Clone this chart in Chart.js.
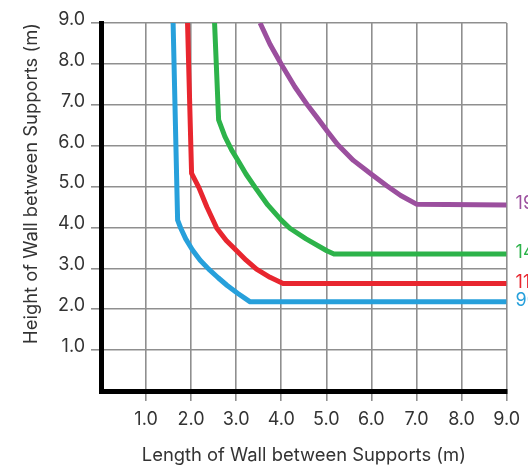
<!DOCTYPE html>
<html>
<head>
<meta charset="utf-8">
<script src="https://cdn.jsdelivr.net/npm/chart.js@4"></script>
<style>
html,body{margin:0;padding:0;background:#fff;}
#wrap{width:528px;height:471px;}
</style>
</head>
<body>
<div id="wrap"><canvas id="c" width="528" height="471"></canvas></div>
<script>
// Data
const seriesLabels = ["190mm", "140mm", "110mm", "90mm"];
const seriesColors = ["#9b4f9e", "#2db34a", "#e8262f", "#27a0db"];

const purpleX = [3.53, 3.75, 4.00, 4.30, 4.59, 4.80, 5.03, 5.25, 5.60, 6.00, 6.34, 6.65, 7.00, 9.0];
const purpleY = [9.00, 8.48, 7.99, 7.44, 6.98, 6.68, 6.34, 6.03, 5.64, 5.30, 5.02, 4.78, 4.57, 4.55];

const greenX = [2.52, 2.61, 2.75, 2.90, 3.05, 3.22, 3.42, 3.70, 4.00, 4.19, 4.55, 5.01, 5.17, 9.0];
const greenY = [9.00, 6.63, 6.22, 5.89, 5.62, 5.30, 4.98, 4.55, 4.18, 3.98, 3.72, 3.43, 3.35, 3.35];

const redX = [1.92, 2.01, 2.17, 2.35, 2.57, 2.78, 3.01, 3.22, 3.45, 3.75, 4.04, 9.0];
const redY = [9.00, 5.32, 4.98, 4.50, 3.98, 3.68, 3.43, 3.20, 2.98, 2.78, 2.63, 2.63];

const blueX = [1.60, 1.70, 1.77, 1.88, 2.03, 2.20, 2.39, 2.60, 2.80, 3.03, 3.31, 9.0];
const blueY = [9.00, 4.18, 3.98, 3.72, 3.45, 3.20, 2.98, 2.77, 2.58, 2.39, 2.18, 2.18];

const xTicks = [1, 2, 3, 4, 5, 6, 7, 8, 9];
const yTicks = [1, 2, 3, 4, 5, 6, 7, 8, 9];

const xTitle = "Length of Wall between Supports (m)";
const yTitle = "Height of Wall between Supports (m)";

function pts(xs, ys) { return xs.map((x, i) => ({x: x, y: ys[i]})); }
const allX = [purpleX, greenX, redX, blueX];
const allY = [purpleY, greenY, redY, blueY];

const FONT = "Inter, 'Liberation Sans', Arial, sans-serif";
const GRID = "#8f8f8f";

const endLabels = {
  id: 'endLabels',
  afterDatasetsDraw(chart) {
    const ctx = chart.ctx;
    ctx.save();
    ctx.font = "18px " + FONT;
    ctx.textBaseline = "middle";
    ctx.textAlign = "left";
    chart.data.datasets.forEach((ds, i) => {
      const meta = chart.getDatasetMeta(i);
      const last = meta.data[meta.data.length - 1];
      ctx.fillStyle = ds.borderColor;
      ctx.fillText(ds.label, last.x + 9, last.y - 1);
    });
    ctx.restore();
  }
};

new Chart(document.getElementById('c'), {
  type: 'line',
  data: {
    datasets: seriesLabels.map((lab, i) => ({
      label: lab,
      data: pts(allX[i], allY[i]),
      borderColor: seriesColors[i],
      backgroundColor: seriesColors[i],
      borderWidth: 5,
      borderJoinStyle: 'round',
      pointRadius: 0,
      tension: 0,
      fill: false
    }))
  },
  options: {
    responsive: false,
    animation: false,
    devicePixelRatio: 1,
    layout: { padding: { top: 23, right: 17, bottom: 0, left: 0 } },
    plugins: { legend: { display: false }, tooltip: { enabled: false } },
    scales: {
      x: {
        type: 'linear',
        min: 0, max: 9,
        afterBuildTicks(scale) { scale.ticks = xTicks.map(v => ({value: v})); },
        afterFit(scale) { scale.height = 80; },
        grid: { color: GRID, lineWidth: 1.6, tickLength: 10, drawTicks: true },
        border: { display: true, color: '#000', width: 5 },
        ticks: {
          color: '#333', font: { family: FONT, size: 18 }, padding: 8,
          maxRotation: 0, autoSkip: false,
          callback: v => Number(v).toFixed(1)
        },
        title: {
          display: true, text: xTitle, color: '#333',
          font: { family: FONT, size: 18.4 }, padding: { top: 0, bottom: 4 }
        }
      },
      y: {
        type: 'linear',
        min: 0, max: 9,
        afterBuildTicks(scale) { scale.ticks = yTicks.map(v => ({value: v})); },
        afterFit(scale) { scale.width = 101; },
        grid: { color: GRID, lineWidth: 1.6, tickLength: 10, drawTicks: true },
        border: { display: true, color: '#000', width: 5 },
        ticks: {
          color: '#333', font: { family: FONT, size: 18 }, padding: 6,
          labelOffset: -3.5,
          autoSkip: false,
          callback: v => Number(v).toFixed(1)
        },
        title: {
          display: true, text: yTitle, color: '#333', align: 'end',
          font: { family: FONT, size: 18.4 }, padding: { top: 20, bottom: 0 }
        }
      }
    }
  },
  plugins: [endLabels]
});
</script>
</body>
</html>
